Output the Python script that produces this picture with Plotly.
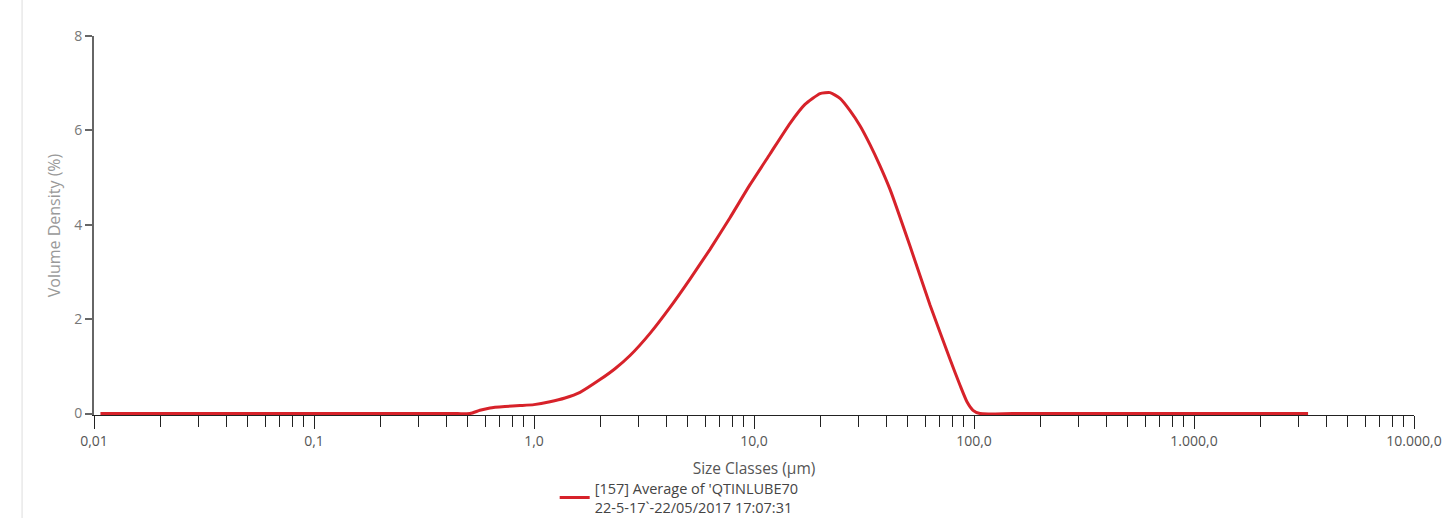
import plotly.graph_objects as go

# Size classes (µm) and volume density (%)
sizes = [0.0107, 0.02, 0.05, 0.1, 0.2, 0.3, 0.45, 0.512, 0.568, 0.631, 0.738,
         0.864, 1.0, 1.182, 1.383, 1.619, 1.995, 2.334, 2.732, 3.368, 4.152,
         5.118, 6.31, 7.779, 9.59, 11.82, 14.58, 17.05, 19.95, 22.16, 24.6,
         27.32, 30.33, 33.68, 37.39, 41.52, 51.18, 63.1, 77.8, 86.4, 92.9,
         98.96, 106.4, 150.0, 500.0, 1000.0, 2000.0, 3300.0]
density = [0.0, 0.0, 0.0, 0.0, 0.0, 0.0, 0.0, 0.0, 0.07, 0.12, 0.15,
           0.17, 0.19, 0.25, 0.33, 0.45, 0.72, 0.95, 1.23, 1.70, 2.25,
           2.85, 3.48, 4.15, 4.85, 5.5, 6.15, 6.55, 6.78, 6.80, 6.68,
           6.42, 6.1, 5.7, 5.25, 4.75, 3.55, 2.3, 1.15, 0.6, 0.25,
           0.07, 0.0, 0.0, 0.0, 0.0, 0.0, 0.0]

series_name = "[157] Average of 'QTINLUBE70<br>22-5-17`-22/05/2017 17:07:31"

major_vals = [0.01, 0.1, 1, 10, 100, 1000, 10000]
major_text = ["0,01", "0,1", "1,0", "10,0", "100,0", "1.000,0", "10.000,0"]
minor_vals = [m * 10 ** e for e in range(-2, 4) for m in range(2, 10)]

y_vals = [0, 2, 4, 6, 8]

FONT = "Open Sans, Noto Sans, sans-serif"

fig = go.Figure()
fig.add_trace(go.Scatter(
    x=sizes, y=density, mode="lines", name=series_name,
    line=dict(color="#d7222a", width=3, shape="spline", smoothing=0.5),
    showlegend=True,
))

fig.update_layout(
    width=1451, height=518,
    margin=dict(l=94, r=37, t=36, b=103, autoexpand=False),
    paper_bgcolor="white", plot_bgcolor="white",
    font=dict(family=FONT, size=14, color="#555555"),
    showlegend=True,
    legend=dict(
        x=0.349, y=-0.151, xanchor="left", yanchor="top",
        font=dict(family=FONT, size=14.5, color="#444444"),
        bgcolor="rgba(0,0,0,0)", itemwidth=30, tracegroupgap=0,
    ),
    xaxis=dict(
        type="log", range=[-2, 4], automargin=False,
        tickmode="array", tickvals=major_vals, ticktext=major_text,
        ticks="outside", ticklen=13, tickwidth=1, tickcolor="#222222",
        minor=dict(tickmode="array", tickvals=minor_vals, ticks="outside",
                   ticklen=11, tickwidth=1, tickcolor="#222222", showgrid=False),
        showline=True, linecolor="#222222", linewidth=1,
        showgrid=False, zeroline=False,
        tickfont=dict(size=14, color="#555555"),
        title=dict(text="Size Classes (µm)", standoff=14,
                   font=dict(size=15.5, color="#555555")),
    ),
    yaxis=dict(
        range=[-0.03, 8], tickmode="array", tickvals=y_vals, automargin=False,
        ticks="outside", ticklen=7, tickwidth=2, tickcolor="#666666",
        showline=True, linecolor="#666666", linewidth=2,
        showgrid=False, zeroline=False,
        tickfont=dict(size=14, color="#777777"),
        title=dict(text="Volume Density (%)", standoff=10,
                   font=dict(size=16, color="#999999")),
    ),
    shapes=[dict(type="line", xref="paper", yref="paper",
                 x0=-0.0545, x1=-0.0545, y0=-0.272, y1=1.095,
                 line=dict(color="#dddddd", width=1))],
)

fig.write_html(
    "out.html",
    config={"displayModeBar": False},
    post_script="document.body.style.margin='0';document.body.style.overflow='hidden';",
)
